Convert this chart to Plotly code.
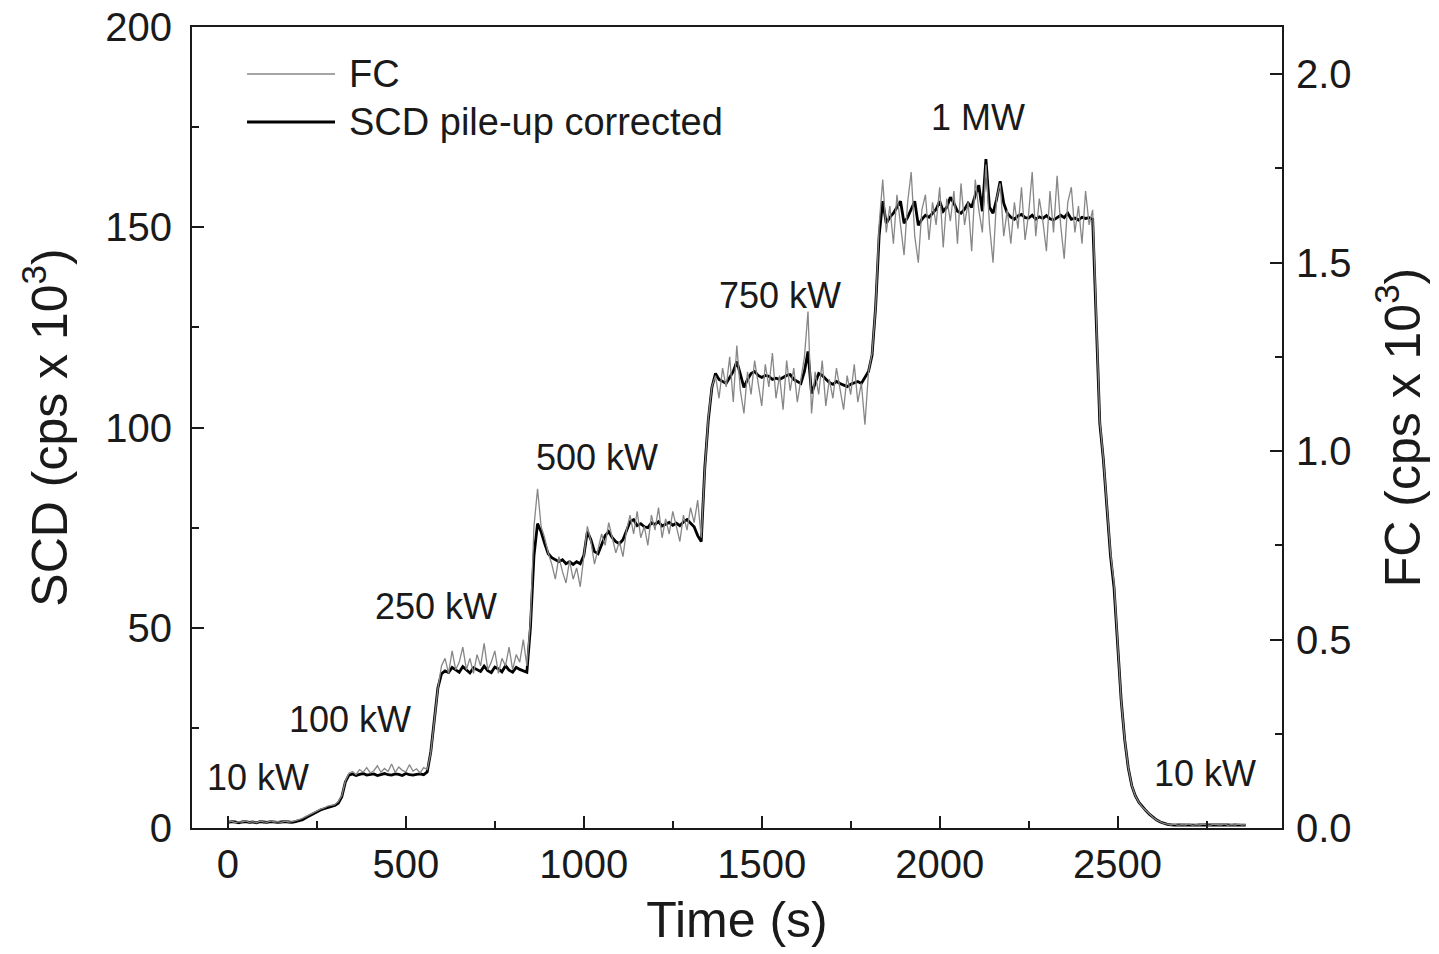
import plotly.graph_objects as go

# ---------------- data ----------------
time_s = [
    0, 10, 20, 30, 40, 50, 60, 70, 80, 90, 100, 110, 120, 130, 140, 150, 160, 170, 180, 190,
    200, 210, 220, 230, 240, 250, 260, 270, 280, 290, 300, 310, 320, 330, 340, 350, 360, 370, 380, 390,
    400, 410, 420, 430, 440, 450, 460, 470, 480, 490, 500, 510, 520, 530, 540, 550, 560, 570, 580, 590,
    600, 610, 620, 630, 640, 650, 660, 670, 680, 690, 700, 710, 720, 730, 740, 750, 760, 770, 780, 790,
    800, 810, 820, 830, 840, 850, 860, 870, 880, 890, 900, 910, 920, 930, 940, 950, 960, 970, 980, 990,
    1000, 1010, 1020, 1030, 1040, 1050, 1060, 1070, 1080, 1090, 1100, 1110, 1120, 1130, 1140, 1150, 1160, 1170, 1180, 1190,
    1200, 1210, 1220, 1230, 1240, 1250, 1260, 1270, 1280, 1290, 1300, 1310, 1320, 1330, 1340, 1350, 1360, 1370, 1380, 1390,
    1400, 1410, 1420, 1430, 1440, 1450, 1460, 1470, 1480, 1490, 1500, 1510, 1520, 1530, 1540, 1550, 1560, 1570, 1580, 1590,
    1600, 1610, 1620, 1630, 1640, 1650, 1660, 1670, 1680, 1690, 1700, 1710, 1720, 1730, 1740, 1750, 1760, 1770, 1780, 1790,
    1800, 1810, 1820, 1830, 1840, 1850, 1860, 1870, 1880, 1890, 1900, 1910, 1920, 1930, 1940, 1950, 1960, 1970, 1980, 1990,
    2000, 2010, 2020, 2030, 2040, 2050, 2060, 2070, 2080, 2090, 2100, 2110, 2120, 2130, 2140, 2150, 2160, 2170, 2180, 2190,
    2200, 2210, 2220, 2230, 2240, 2250, 2260, 2270, 2280, 2290, 2300, 2310, 2320, 2330, 2340, 2350, 2360, 2370, 2380, 2390,
    2400, 2410, 2420, 2430, 2440, 2450, 2460, 2470, 2480, 2490, 2500, 2510, 2520, 2530, 2540, 2550, 2560, 2570, 2580, 2590,
    2600, 2610, 2620, 2630, 2640, 2650, 2660, 2670, 2680, 2690, 2700, 2710, 2720, 2730, 2740, 2750, 2760, 2770, 2780, 2790,
    2800, 2810, 2820, 2830, 2840, 2850, 2860,
]

# SCD pile-up corrected, cps x 10^3 (left axis)
scd_kcps = [
    1.4, 1.6, 1.5, 1.3, 1.5, 1.6, 1.4, 1.5, 1.3, 1.6, 1.5, 1.4, 1.6, 1.5, 1.4, 1.5, 1.6, 1.5, 1.4, 1.6,
    1.8, 2.1, 2.6, 3.1, 3.6, 4.1, 4.5, 4.8, 5.1, 5.4, 5.6, 6.2, 7.8, 11.5,
    13.2, 13.5, 13.1, 13.4, 13.6, 13.2, 13.3, 13.5, 13.1, 13.4, 13.6, 13.3, 13.2, 13.5, 13.4, 13.1, 13.6, 13.3, 13.2, 13.4, 13.5, 13.3, 14.0,
    19, 27, 35,
    38.5, 39.2, 38.8, 40.1, 39.5, 38.9, 40.3, 39.4, 38.7, 40.0, 39.6, 39.1, 40.4, 39.3, 38.8, 40.2, 39.7, 39.0, 40.5, 39.4, 38.9, 40.1, 39.6, 39.2, 38.9,
    50, 68,
    76, 74, 71, 68.5, 67.5, 67, 66.5, 67, 66, 66.5,
    65.8, 66.5, 66, 68, 74, 72, 69, 68.5, 71, 73,
    74, 72.5, 71.5, 71, 72, 74.5, 76.5, 77, 75.5, 76,
    75.2, 75, 76.2, 75.8, 76.5, 75.4, 75.9, 76.3, 75.6, 76.1,
    75.5, 76.4, 77, 76, 75.2, 73, 71.5,
    90, 102, 110,
    113.5, 112, 111.5, 111, 112.5, 114, 116.5, 113, 110, 112,
    113.5, 114, 113, 112.5, 113, 112.8, 112, 112.3, 112, 112.5,
    113, 113.2, 112, 111.5, 111, 114, 119, 108.5, 111, 113.5,
    113, 112, 111.2, 110.8, 111.5, 111, 110.5, 110.2, 110.8, 111.2,
    111.5, 111, 112.5, 114, 118,
    130, 148,
    156.5, 151, 152.5, 153.5, 155, 156.5, 151, 152.5, 154.5, 156.5,
    150.5, 152, 153, 152.5, 153.5, 154.5, 156.5, 154, 155, 157.5,
    156, 154, 153.5, 154.5, 156, 155, 158, 160.5, 154, 167,
    155, 153.5, 157, 161.5, 156, 153.5, 152.5, 152, 152.8, 153.2,
    152.4, 152.3, 153, 152, 152.6, 152.2, 152.9, 152.1, 151.8, 152.5,
    153, 152.4, 153.5, 152, 152.3, 151.8, 152.5, 152.2, 152.4, 152,
    125, 101, 92, 80, 68, 60, 47, 32, 22, 15, 10.5, 8, 6.4, 5.2, 4.3, 3.4, 2.6, 2.0, 1.5, 1.1, 0.9,
    0.8, 0.7, 0.8, 0.75, 0.7, 0.8, 0.75, 0.7, 0.8, 0.7, 0.75, 0.8, 0.7, 0.75, 0.8, 0.7, 0.75, 0.7, 0.8, 0.7, 0.75, 0.7,
]

# FC, cps x 10^3 (right axis)
fc_kcps = [
    0.015, 0.018, 0.014, 0.017, 0.016, 0.019, 0.015, 0.017, 0.014, 0.018, 0.016, 0.015, 0.019, 0.016, 0.017, 0.015, 0.018, 0.016, 0.017, 0.019,
    0.022, 0.026, 0.031, 0.035, 0.041, 0.045, 0.05, 0.053, 0.058, 0.06, 0.062, 0.07, 0.086, 0.125,
    0.145, 0.15, 0.142, 0.155, 0.148, 0.16, 0.146, 0.152, 0.165, 0.148, 0.158, 0.15, 0.17, 0.147, 0.162, 0.153, 0.149, 0.168, 0.151, 0.157, 0.146, 0.16, 0.155,
    0.2, 0.29, 0.37,
    0.43, 0.45, 0.41, 0.47, 0.42, 0.44, 0.48, 0.42, 0.45, 0.41, 0.46, 0.43, 0.49, 0.42, 0.44, 0.47, 0.41, 0.45, 0.43, 0.48, 0.42, 0.46, 0.44, 0.5, 0.43,
    0.55, 0.8,
    0.9, 0.80, 0.77, 0.73, 0.70, 0.66, 0.72, 0.68, 0.65, 0.71,
    0.66, 0.69, 0.64, 0.72, 0.8, 0.76, 0.7, 0.74, 0.78, 0.75,
    0.81, 0.77, 0.73, 0.76, 0.72, 0.79, 0.83, 0.78, 0.84, 0.77,
    0.8, 0.75, 0.83, 0.79, 0.85, 0.77, 0.82, 0.78, 0.84, 0.8,
    0.76, 0.83, 0.79, 0.85, 0.81, 0.87, 0.77,
    0.95, 1.09, 1.17,
    1.2, 1.14, 1.22, 1.17, 1.25, 1.13, 1.28, 1.16, 1.1, 1.21,
    1.15, 1.24, 1.18, 1.12, 1.23, 1.17, 1.26, 1.14, 1.2, 1.11,
    1.24, 1.16, 1.22, 1.13, 1.19, 1.25, 1.37, 1.1, 1.21, 1.15,
    1.24, 1.12, 1.19, 1.14, 1.22, 1.16, 1.11, 1.2, 1.15, 1.23,
    1.13, 1.18, 1.07, 1.21, 1.26,
    1.38, 1.6,
    1.72, 1.58, 1.65, 1.55, 1.68, 1.6, 1.52, 1.66, 1.74, 1.57,
    1.5, 1.64, 1.68, 1.56, 1.66, 1.6, 1.7, 1.54, 1.67, 1.61,
    1.69, 1.55, 1.71, 1.6, 1.66, 1.53, 1.72, 1.64, 1.58, 1.76,
    1.6, 1.5, 1.67, 1.71, 1.57, 1.64, 1.55, 1.66, 1.59, 1.7,
    1.56, 1.63, 1.74, 1.57, 1.67, 1.61, 1.53, 1.69, 1.58, 1.73,
    1.6, 1.51, 1.66, 1.7, 1.58, 1.65, 1.55, 1.69, 1.6, 1.64,
    1.33, 1.08, 0.98, 0.85, 0.73, 0.65, 0.5, 0.34, 0.235, 0.16, 0.112, 0.085, 0.068, 0.055, 0.046, 0.036, 0.028, 0.021, 0.016, 0.012, 0.01,
    0.008, 0.01, 0.007, 0.009, 0.008, 0.011, 0.007, 0.009, 0.008, 0.01, 0.008, 0.007, 0.01, 0.009, 0.008, 0.011, 0.007, 0.009, 0.008, 0.01, 0.008, 0.009,
]

power_labels = ["10 kW", "100 kW", "250 kW", "500 kW", "750 kW", "1 MW", "10 kW"]
x_ticks = [0, 500, 1000, 1500, 2000, 2500]
scd_ticks = [0, 50, 100, 150, 200]
fc_ticks = [0.0, 0.5, 1.0, 1.5, 2.0]
fc_tick_text = ["0.0", "0.5", "1.0", "1.5", "2.0"]

assert len(time_s) == len(scd_kcps) == len(fc_kcps), (len(time_s), len(scd_kcps), len(fc_kcps))

# ---------------- layout / style ----------------
FONT = "Liberation Sans, Arial, Helvetica, sans-serif"
INK = "#1a1a1a"
# annotation anchor points (data coords) for the power labels
label_pos = [(84, 12.5), (343, 27), (585, 55.2), (1037, 92.4), (1551, 133), (2108, 177.3), (2746, 13.7)]

fig = go.Figure()
fig.add_trace(go.Scatter(x=time_s, y=fc_kcps, mode="lines", name="FC", yaxis="y2",
                         line=dict(color="rgb(135,135,135)", width=1.3)))
fig.add_trace(go.Scatter(x=time_s, y=scd_kcps, mode="lines", name="SCD pile-up corrected",
                         line=dict(color="black", width=2.8)))

for txt, (tx, ty) in zip(power_labels, label_pos):
    fig.add_annotation(x=tx, y=ty, xref="x", yref="y", text=txt, showarrow=False,
                       font=dict(size=36, family=FONT, color=INK), xanchor="center", yanchor="middle")

# manual legend (long line samples as in the reference)
leg_x0, leg_x1, leg_tx = 0.0505, 0.1312, 0.1422
for yy, col, w, txt in [(0.9413, "rgb(135,135,135)", 1.6, "FC"), (0.8814, "black", 2.8, "SCD pile-up corrected")]:
    fig.add_shape(type="line", xref="paper", yref="paper", x0=leg_x0, x1=leg_x1, y0=yy, y1=yy,
                  line=dict(color=col, width=w))
    fig.add_annotation(x=leg_tx, y=yy, xref="paper", yref="paper", text=txt, showarrow=False,
                       xanchor="left", yanchor="middle", font=dict(size=38, family=FONT, color=INK))

axis_common = dict(showline=True, linewidth=2, linecolor=INK, showgrid=False, zeroline=False,
                   ticks="inside", tickwidth=2, tickcolor=INK, ticklen=12, automargin=False,
                   ticklabeloverflow="allow")

# page body margin is removed (post_script below); the figure sits at the top-left corner
fig.update_layout(
    width=1439, height=950,
    margin=dict(l=192, r=157, t=27, b=122),
    paper_bgcolor="white", plot_bgcolor="white",
    showlegend=False,
    font=dict(family=FONT, color=INK, size=38),
    xaxis=dict(range=[-101, 2962], tickvals=x_ticks, mirror=True,
               minor=dict(ticks="inside", dtick=250, tick0=0, ticklen=7, tickwidth=2, tickcolor=INK),
               tickfont=dict(size=40), ticklabelstandoff=0,
               title=dict(text="Time (s)", font=dict(size=50), standoff=17),
               **axis_common),
    yaxis=dict(range=[0, 200], tickvals=scd_ticks,
               minor=dict(ticks="inside", dtick=25, tick0=0, ticklen=7, tickwidth=2, tickcolor=INK),
               tickfont=dict(size=40), ticklabelstandoff=10,
               title=dict(text="SCD (cps x 10<sup>3</sup>)", font=dict(size=50), standoff=22),
               **axis_common),
    yaxis2=dict(range=[0, 2.125], overlaying="y", side="right", tickvals=fc_ticks, ticktext=fc_tick_text,
                minor=dict(ticks="inside", dtick=0.25, tick0=0, ticklen=7, tickwidth=2, tickcolor=INK),
                tickfont=dict(size=40), ticklabelstandoff=4,
                title=dict(text="FC (cps x 10<sup>3</sup>)", font=dict(size=50), standoff=34),
                **axis_common),
)

fig.write_html("out.html", config={"displayModeBar": False},
               post_script="document.body.style.margin='0px';")
